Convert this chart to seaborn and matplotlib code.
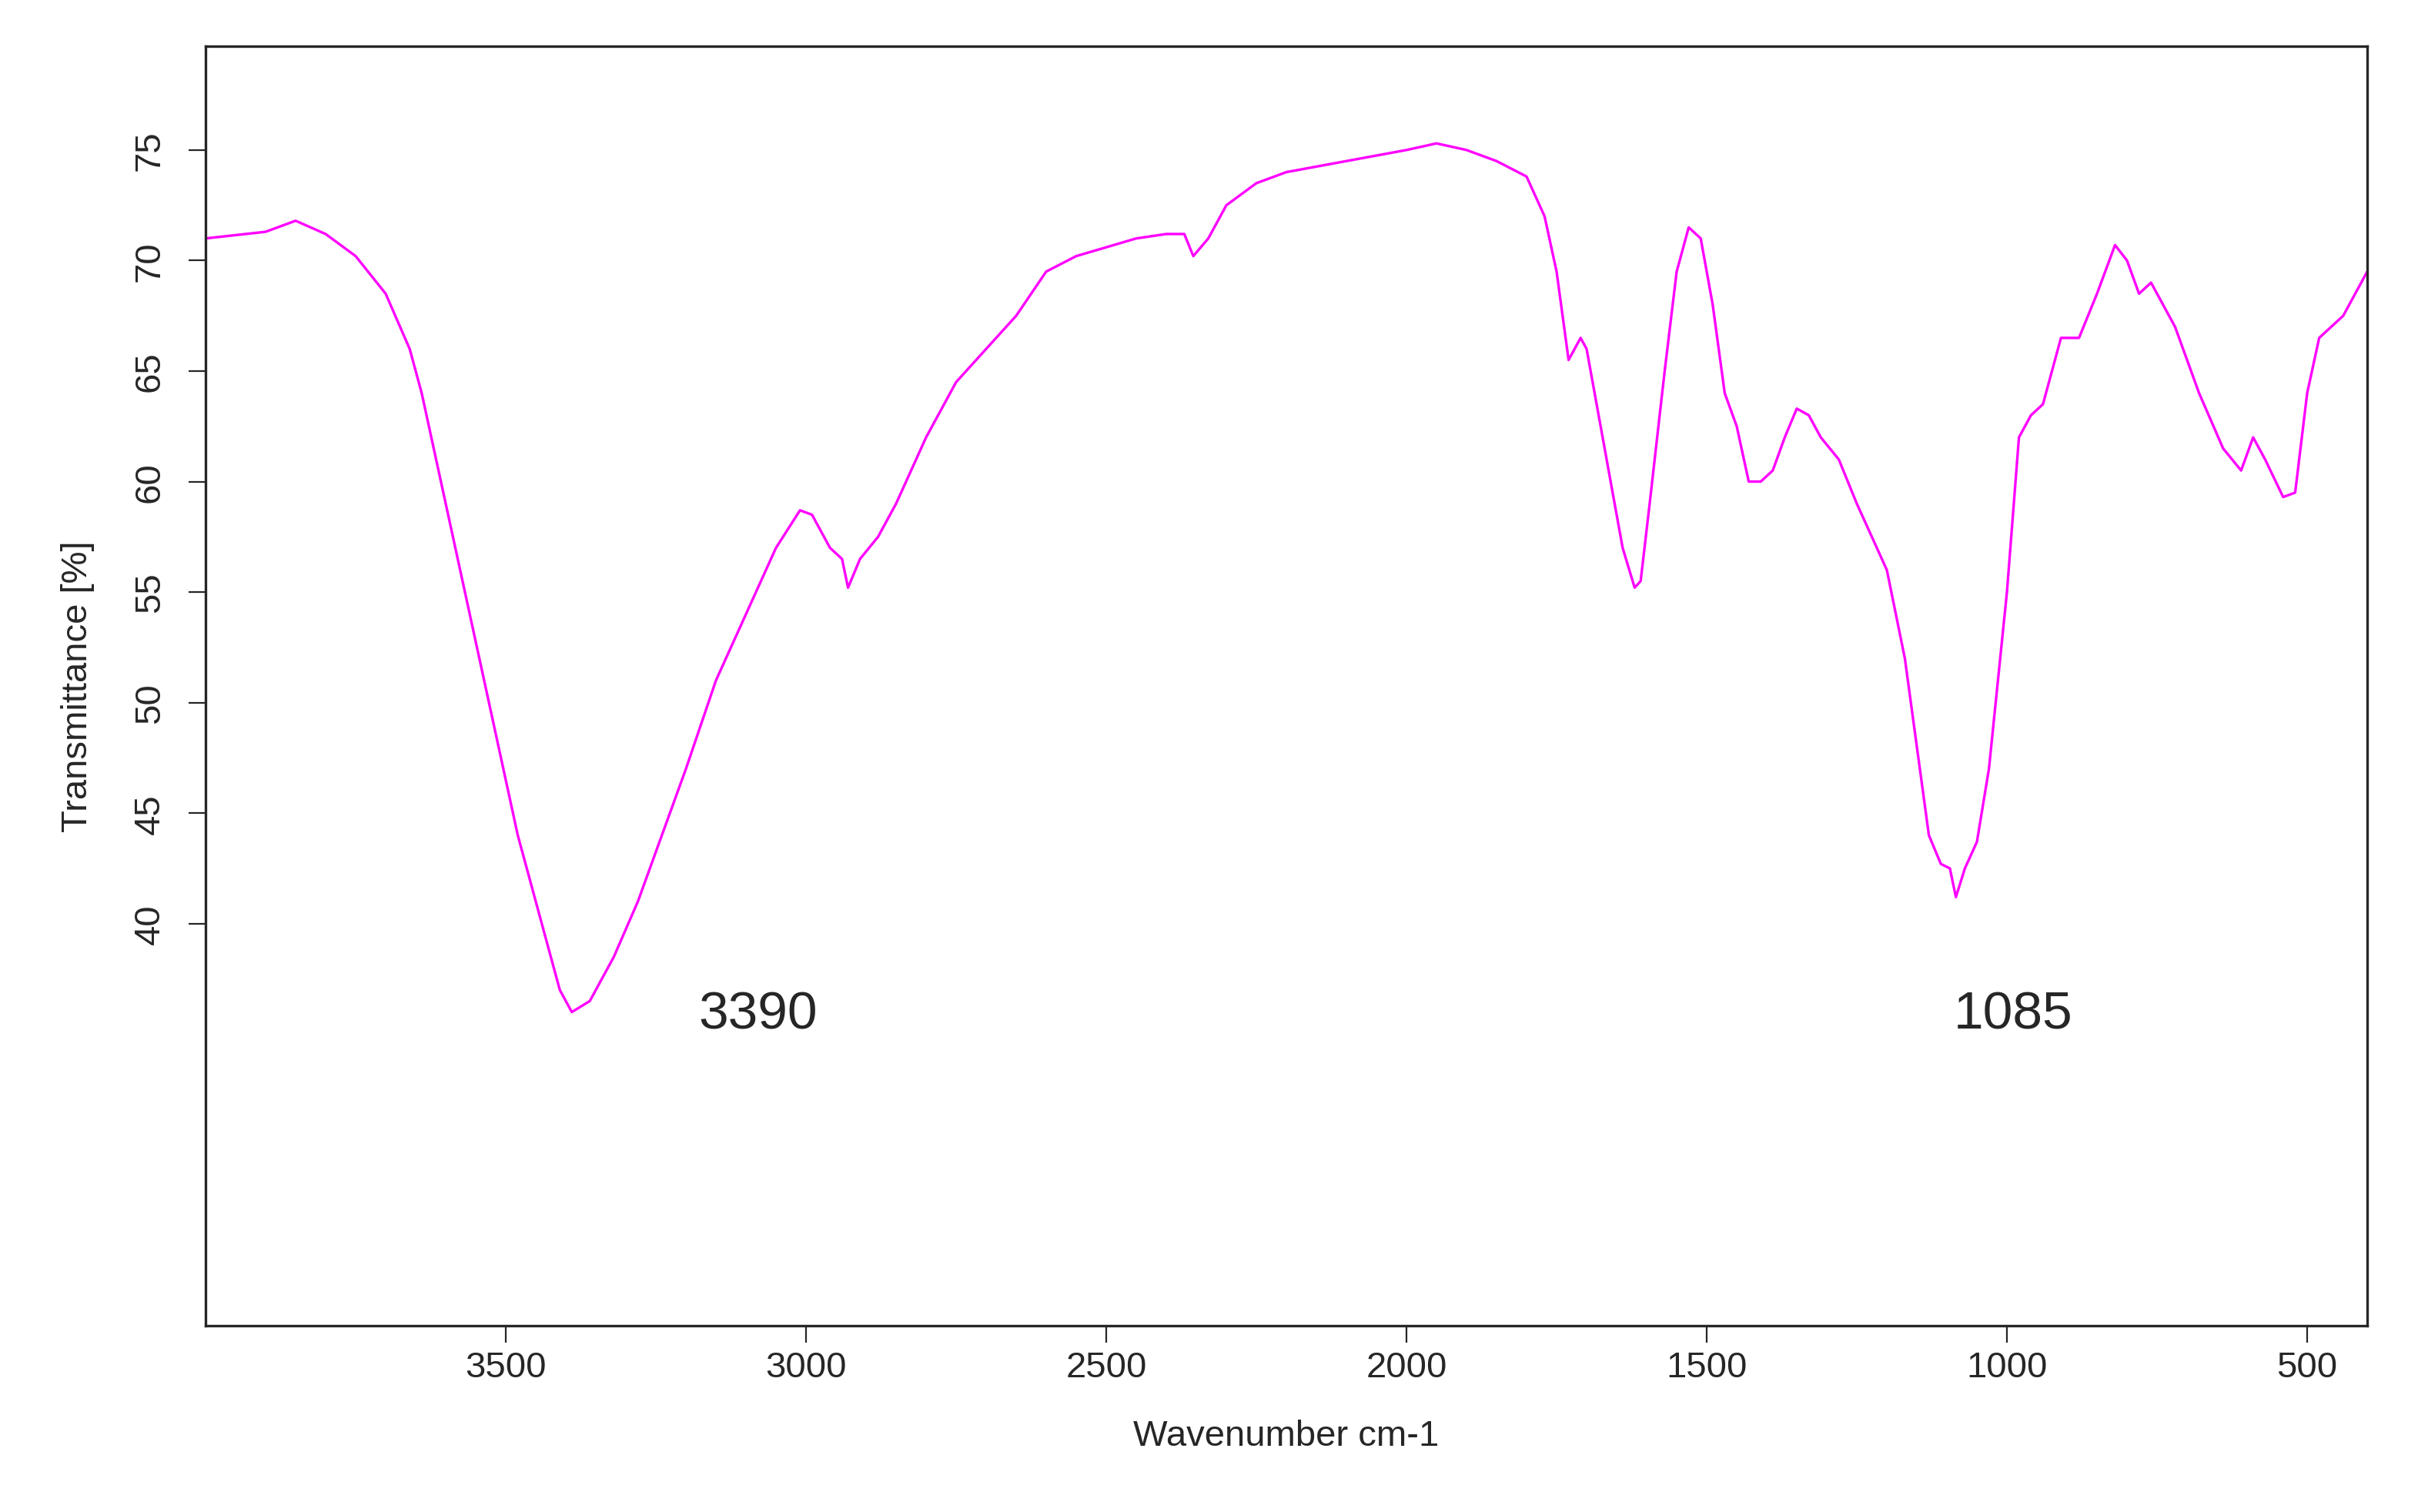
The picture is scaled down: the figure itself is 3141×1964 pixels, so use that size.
import matplotlib
matplotlib.use("Agg")
import matplotlib.pyplot as plt
import seaborn as sns
import pandas as pd

wavenumber = [4000,3900,3850,3800,3750,3700,3660,3640,3600,3560,3520,3480,3440,3410,3390,3360,3320,3280,3240,3200,3150,3100,3050,3010,2990,2960,2940,2930,2910,2880,2850,2800,2750,2700,2650,2600,2550,2500,2450,2400,2370,2355,2330,2300,2250,2200,2100,2000,1950,1900,1850,1800,1770,1750,1730,1710,1700,1680,1660,1640,1620,1610,1595,1570,1550,1530,1510,1490,1470,1450,1430,1410,1390,1370,1350,1330,1310,1280,1250,1200,1170,1150,1130,1110,1095,1085,1070,1050,1030,1000,980,960,940,910,880,850,820,800,780,760,720,680,640,610,590,570,540,520,500,480,440,400]
transmittance = [71,71.3,71.8,71.2,70.2,68.5,66,64,59,54,49,44,40,37,36,36.5,38.5,41,44,47,51,54,57,58.7,58.5,57,56.5,55.2,56.5,57.5,59,62,64.5,66,67.5,69.5,70.2,70.6,71,71.2,71.2,70.2,71,72.5,73.5,74,74.5,75,75.3,75,74.5,73.8,72,69.5,65.5,66.5,66,63,60,57,55.2,55.5,59,65,69.5,71.5,71,68,64,62.5,60,60,60.5,62,63.3,63,62,61,59,56,52,48,44,42.7,42.5,41.2,42.5,43.7,47,55,62,63,63.5,66.5,66.5,68.5,70.7,70,68.5,69,67,64,61.5,60.5,62,61,59.3,59.5,64,66.5,67.5,69.5]
peak_labels = ["3390", "1085"]
peak_x = [3080, 990]
peak_y = [35.9, 35.9]

sns.set_style("ticks")
plt.rcParams['font.family'] = ['Liberation Sans', 'DejaVu Sans']

df = pd.DataFrame({"wn": wavenumber, "T": transmittance})
fig = plt.figure(figsize=(15.705, 9.825), dpi=200)
ax = fig.add_axes([0.085, 0.123, 0.894, 0.846])
sns.lineplot(data=df, x="wn", y="T", ax=ax, color="#FF00FF", linewidth=1.2, sort=False)
ax.set_xlim(4000, 400)
ax.set_ylim(21.8, 79.7)
ax.set_xticks([3500, 3000, 2500, 2000, 1500, 1000, 500])
ax.set_yticks([40, 45, 50, 55, 60, 65, 70, 75])
ax.tick_params(axis="both", labelsize=17, length=8)
ax.tick_params(axis="y", pad=10)
for lab in ax.get_yticklabels():
    lab.set_rotation(90)
    lab.set_va("center")
ax.set_xlabel("Wavenumber cm-1", fontsize=17, labelpad=16)
ax.set_ylabel("Transmittance [%]", fontsize=17, labelpad=18)
for s in ax.spines.values():
    s.set_linewidth(1.2)
for t, x, y in zip(peak_labels, peak_x, peak_y):
    ax.text(x, y, t, fontsize=25, ha="center", va="center")
fig.savefig("out.png", dpi=200)
